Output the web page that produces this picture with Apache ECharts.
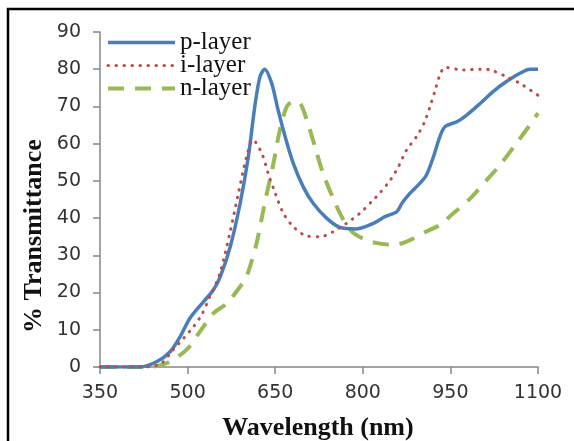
<!DOCTYPE html>
<html>
<head>
<meta charset="utf-8">
<script src="https://cdn.jsdelivr.net/npm/echarts@6/dist/echarts.min.js"></script>
<style>
  html, body { margin: 0; padding: 0; background: #fff; }
  #chart { width: 574px; height: 441px; }
</style>
</head>
<body>
<div id="chart"></div>
<script>
// wavelength (nm) / transmittance (%)
var pWave = [350, 418, 447, 470, 487, 504, 527, 544, 556, 573, 590, 604, 615, 624, 632, 644, 655, 667, 681, 698, 715, 738, 761, 789, 818, 838, 858, 867, 881, 898, 909, 921, 932, 941, 961, 978, 1001, 1023, 1046, 1069, 1086, 1100];
var pVal  = [0, 0, 1.4, 4.1, 8.1, 13.1, 17.5, 20.7, 24.3, 32.3, 44, 56.5, 69.9, 78, 80, 76.2, 69, 61.9, 54.7, 48.4, 44, 40, 37.5, 37.1, 38.6, 40.4, 41.7, 44, 46.7, 49.4, 51.6, 56.5, 61.9, 64.6, 65.9, 67.7, 70.8, 74, 76.7, 78.9, 80, 80];

var iWave = [350, 430, 455, 475, 493, 510, 524, 538, 555, 573, 587, 601, 612, 627, 638, 650, 664, 681, 704, 727, 750, 772, 795, 818, 829, 847, 861, 875, 892, 906, 915, 924, 932, 941, 972, 1001, 1018, 1046, 1069, 1100];
var iVal  = [0, 0, 1, 4.6, 7.7, 10.8, 14, 18.9, 25, 36.5, 46.7, 56.5, 61, 57.4, 52, 46.7, 41.3, 37.7, 35.2, 35, 36.4, 38.6, 41.3, 44.9, 46.7, 50.2, 53.8, 58.3, 61.9, 65.9, 69.9, 74.4, 78.4, 80.5, 79.8, 80, 79.8, 78, 76.2, 73];

var nWave = [350, 430, 464, 498, 521, 544, 567, 590, 601, 618, 632, 647, 658, 670, 681, 692, 704, 718, 732, 750, 767, 784, 807, 821, 852, 875, 909, 932, 955, 984, 1012, 1035, 1063, 1086, 1100];
var nVal  = [0, 0, 1, 4.6, 9.5, 14.4, 17.1, 21.6, 24.3, 33.2, 44, 54.7, 63.7, 70, 71.3, 71, 66.4, 59.2, 52, 45, 39.5, 36, 34, 33.4, 32.8, 33.7, 36.4, 38.2, 41.3, 45.3, 50.2, 54.3, 60.1, 65, 68.2];

var seriesNames = ['p-layer', 'i-layer', 'n-layer'];
var xTicks = [350, 500, 650, 800, 950, 1100];

var pColor = '#4A7EBB';
var iColor = '#BE4B48';
var nColor = '#98B954';

function pairs(xs, ys) {
    return xs.map(function (x, k) { return [x, ys[k]]; });
}

var myChart = echarts.init(document.getElementById('chart'));

var axisGray = '#868686';

var pLine = { color: pColor, width: 3.5 };
var iLine = { color: iColor, width: 3, type: [0.5, 7.5], cap: 'round' };
var nLine = { color: nColor, width: 4, type: [16, 11] };

var option = {
    animation: false,
    backgroundColor: '#fff',
    grid: {
        left: 100,
        right: 36,
        top: 32,
        bottom: 74
    },
    legend: {
        orient: 'vertical',
        left: 101,
        top: 25,
        itemWidth: 67,
        itemHeight: 10,
        itemGap: -2,
        data: [
            { name: seriesNames[0], lineStyle: pLine },
            { name: seriesNames[1], lineStyle: iLine },
            { name: seriesNames[2], lineStyle: nLine }
        ],
        itemStyle: { opacity: 0 },
        textStyle: {
            fontFamily: 'Liberation Serif',
            fontSize: 25,
            color: '#111'
        }
    },
    xAxis: {
        type: 'value',
        min: 350,
        max: 1100,
        interval: 150,
        axisLine: { lineStyle: { color: axisGray, width: 1.5 } },
        axisTick: { show: true, inside: false, length: 7, lineStyle: { color: axisGray, width: 1.5 } },
        splitLine: { show: false },
        axisLabel: {
            margin: 17,
            fontFamily: 'DejaVu Sans',
            fontSize: 19,
            color: '#333',
            formatter: function (v) { return xTicks.indexOf(v) >= 0 ? String(v) : ''; }
        }
    },
    yAxis: {
        type: 'value',
        min: 0,
        max: 90,
        interval: 10,
        axisLine: { show: true, lineStyle: { color: axisGray, width: 1.5 } },
        axisTick: { show: true, inside: false, length: 7, lineStyle: { color: axisGray, width: 1.5 } },
        splitLine: { show: false },
        axisLabel: {
            margin: 19,
            fontFamily: 'DejaVu Sans',
            fontSize: 19,
            color: '#333'
        }
    },
    graphic: [
        {
            type: 'rect',
            shape: { x: 8, y: 9, width: 700, height: 700 },
            style: { fill: 'none', stroke: '#000', lineWidth: 2.5 },
            silent: true
        },
        {
            type: 'text',
            x: 318,
            y: 428,
            style: {
                text: 'Wavelength (nm)',
                font: 'bold 26px "Liberation Serif"',
                fill: '#111',
                textAlign: 'center',
                textVerticalAlign: 'middle'
            }
        },
        {
            type: 'text',
            x: 34,
            y: 236,
            rotation: Math.PI / 2,
            style: {
                text: '% Transmittance',
                font: 'bold 26px "Liberation Serif"',
                fill: '#111',
                textAlign: 'center',
                textVerticalAlign: 'middle'
            }
        }
    ],
    series: [
        {
            name: seriesNames[0],
            type: 'line',
            data: pairs(pWave, pVal),
            smooth: 0.3,
            showSymbol: false,
            symbol: 'none',
            color: pColor,
            lineStyle: pLine,
            z: 3
        },
        {
            name: seriesNames[1],
            type: 'line',
            data: pairs(iWave, iVal),
            smooth: 0.3,
            showSymbol: false,
            symbol: 'none',
            color: iColor,
            lineStyle: iLine,
            z: 4
        },
        {
            name: seriesNames[2],
            type: 'line',
            data: pairs(nWave, nVal),
            smooth: 0.3,
            showSymbol: false,
            symbol: 'none',
            color: nColor,
            lineStyle: nLine,
            z: 2
        }
    ]
};

myChart.setOption(option);
</script>
</body>
</html>
